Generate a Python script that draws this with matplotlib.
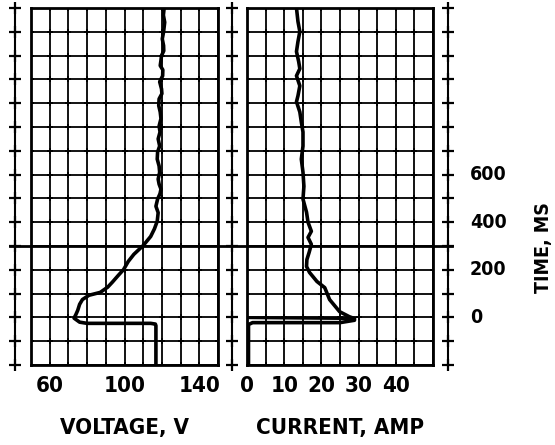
import numpy as np
import matplotlib
matplotlib.use('Agg')
import matplotlib.pyplot as plt

plt.rcParams['font.family'] = ['DejaVu Sans']
plt.rcParams['font.stretch'] = 'condensed'
plt.rcParams['font.weight'] = 'bold'

# Voltage trace (time in ms, volts)
volt_t = [-200, -35, -28, -25, -25, -20, -3, 12, 30, 55, 75, 93, 105, 127, 148, 175,
          201, 235, 265, 302, 340, 372, 404, 440, 467, 497, 520, 539, 560, 581, 610,
          636, 665, 695, 720, 750, 779, 804, 835, 863, 890, 918, 940, 960, 990, 1015,
          1040, 1058, 1080, 1100, 1120, 1142, 1170, 1200, 1240, 1270, 1300]
volt_v = [116.8, 116.8, 116.5, 114, 80, 76, 73, 74, 75, 76, 77.5, 81, 87, 91, 93.5, 96.5,
          99.5, 102, 105, 110, 114, 116, 117.5, 118, 116.8, 117.7, 119, 119.5, 118.5, 118, 118.8,
          118.5, 117.5, 117.7, 118.8, 118, 119, 118.5, 119.5, 119.1, 118.3, 118.5, 120, 119.8, 118.8, 120.4,
          120.5, 119.1, 119.5, 119.8, 121, 120.9, 120.2, 120.9, 121.5, 120.8, 121.2]

# Current trace (time in ms, amps)
curr_t = [-200, -30, -22, -22, -12, -5, 3, 24, 75, 125, 151, 189, 214, 243, 273, 307, 336,
          362, 400, 442, 497, 551, 610, 665, 720, 779, 821, 863, 906, 931, 973, 1015,
          1045, 1074, 1117, 1159, 1201, 1243, 1300]
curr_a = [0.4, 0.4, 1.5, 25, 28.9, 28.9, 27.5, 24.9, 22.2, 20.9, 18.8, 16.8, 16.0, 16.1, 16.7, 17.3, 16.4,
          17.3, 16.4, 16.0, 15.05, 15.3, 15.05, 14.6, 15.05, 15.05, 14.6, 14.2, 13.3, 13.7, 14.2, 13.3,
          14.2, 13.9, 13.3, 13.7, 14.2, 13.7, 13.3]
# sweep line back to zero at switch-on
sweep_t = [-1, -5]
sweep_a = [0, 28.9]

volt_ticks = [60, 100, 140]
curr_ticks = [0, 10, 20, 30, 40]
time_ticks = [0, 200, 400, 600]

W, H = 555, 445
fig = plt.figure(figsize=(W / 100, H / 100), dpi=100)
bot = (H - 365) / H
hgt = 357 / H

def panel(x0, x1, xlim, step, ticks):
    ax = fig.add_axes([x0 / W, bot, (x1 - x0) / W, hgt])
    ax.set_xlim(*xlim)
    ax.set_ylim(-200, 1300)
    xs = np.arange(xlim[0], xlim[1] + 0.1, step)
    ys = np.arange(-200, 1301, 100)
    for x in xs:
        ax.axvline(x, color='black', lw=1.3, zorder=1)
    for y in ys:
        ax.axhline(y, color='black', lw=1.3, zorder=1)
    gx, gy = np.meshgrid(xs, ys)
    ax.plot(gx.ravel(), gy.ravel(), '+', color='black', ms=5, mew=1.3, zorder=1)
    for s in ax.spines.values():
        s.set_linewidth(2)
    ax.set_yticks([])
    ax.set_xticks(ticks)
    ax.set_xticklabels([str(t) for t in ticks], fontsize=16, fontweight='bold')
    ax.tick_params(axis='x', length=0, pad=8)
    return ax

ax1 = panel(31, 218, (50, 150), 10, volt_ticks)
ax1.plot(volt_v, volt_t, color='black', lw=2.6, solid_joinstyle='round', zorder=3)
ax1.set_xlabel('VOLTAGE, V', fontsize=16, fontweight='bold', labelpad=16)

ax2 = panel(247, 433, (0, 50), 5, curr_ticks)
ax2.plot(curr_a, curr_t, color='black', lw=2.6, solid_joinstyle='round', zorder=3)
ax2.plot(sweep_a, sweep_t, color='black', lw=2.2, zorder=3)
ax2.set_xlabel('CURRENT, AMP', fontsize=16, fontweight='bold', labelpad=16)

# overlay for rulers, 300 ms line and time labels
ov = fig.add_axes([0, bot, 1, hgt])
ov.set_xlim(0, W)
ov.set_ylim(-200, 1300)
ov.axis('off')
ys = np.arange(-200, 1301, 100)
for rx in [15, 232, 448]:
    ov.plot([rx, rx], [-200, 1300], color='black', lw=1.5, clip_on=False)
    ov.plot([rx] * len(ys), ys, '+', color='black', ms=8, mew=1.6, clip_on=False)
ov.plot([10, 452], [300, 300], color='black', lw=2, clip_on=False)
for t in time_ticks:
    ov.text(470, t, str(t), ha='left', va='center', fontsize=14, fontweight='bold')
ov.text(543, 295, 'TIME, MS', rotation=90, ha='center', va='center',
        fontsize=14, fontweight='bold')

fig.savefig('out.png', dpi=100)
